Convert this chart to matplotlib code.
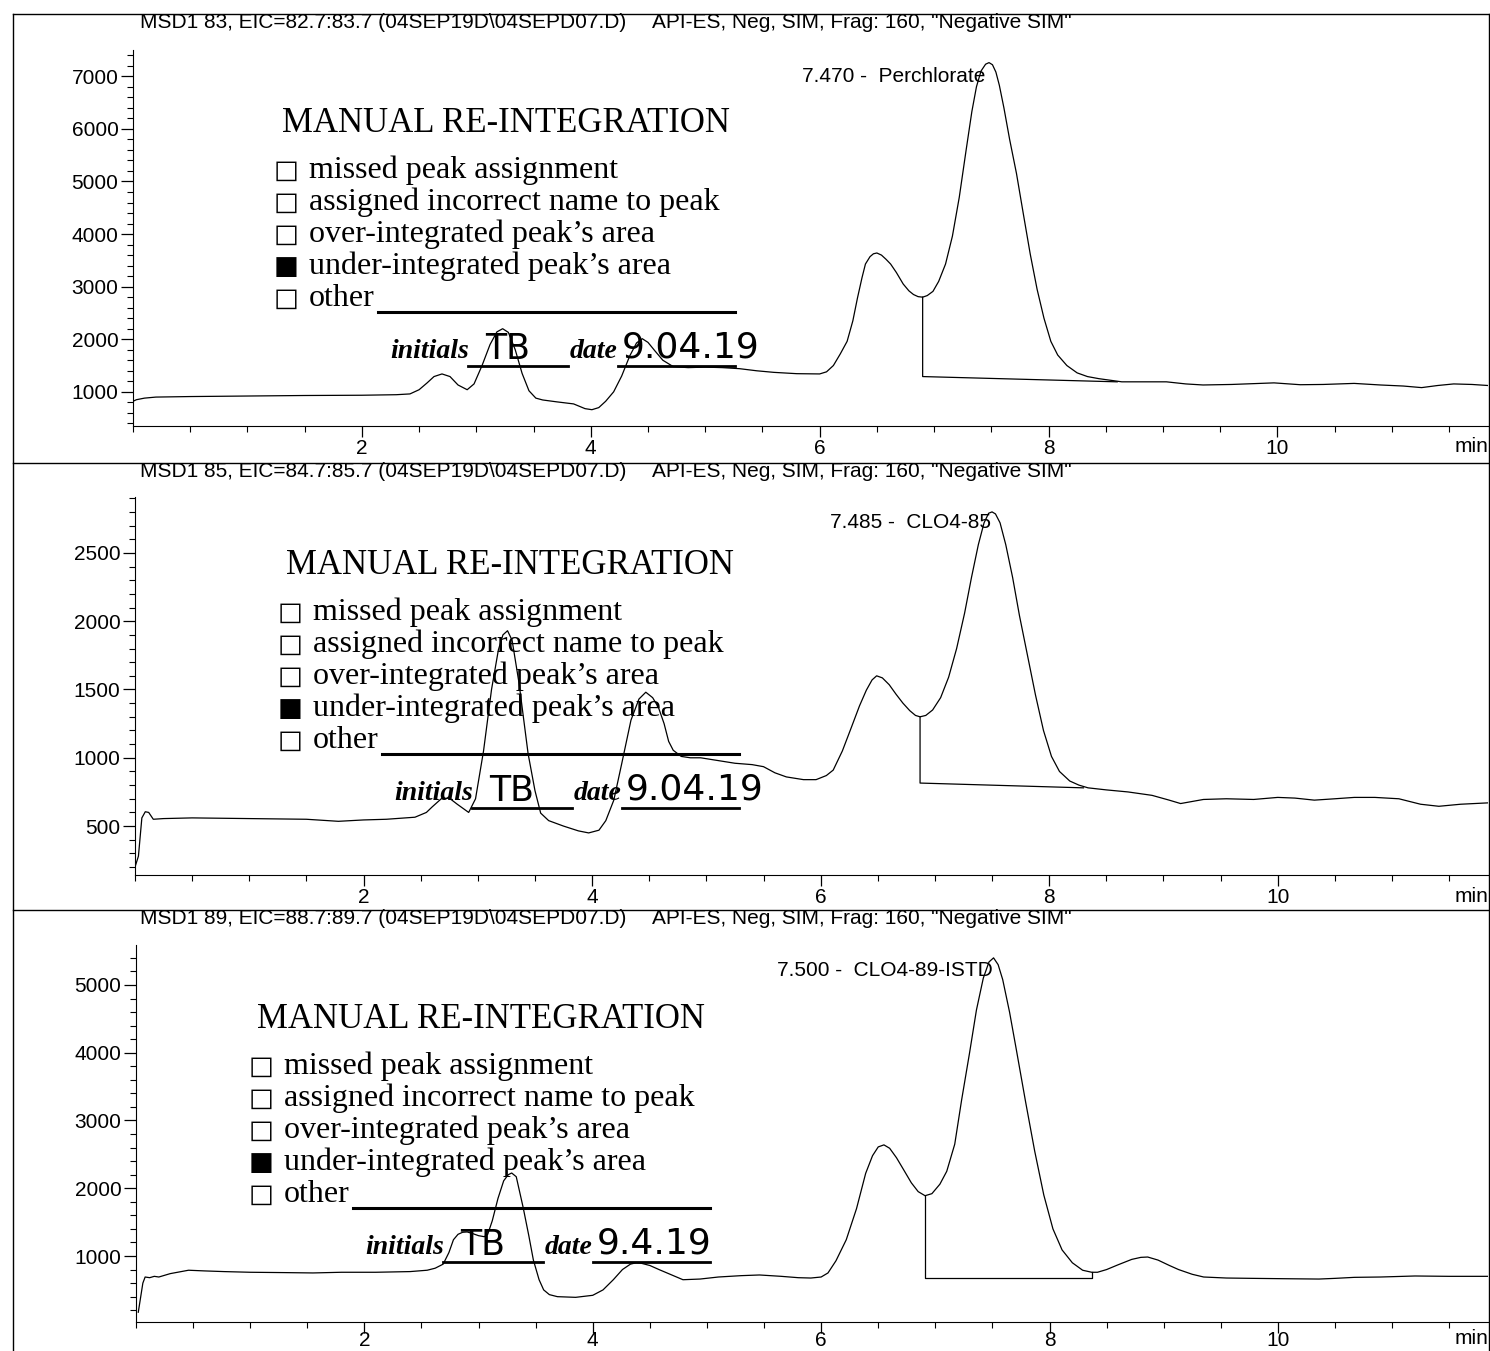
import numpy as np
import matplotlib
matplotlib.use('agg')
import matplotlib.pyplot as plt
from matplotlib.lines import Line2D
from matplotlib.ticker import MultipleLocator

W, H = 1490, 1351

# ---- trace data (time in min, abundance) ----
# MSD1 83 (Perchlorate)
t1 = [0.00, 0.03, 0.10, 0.20, 0.50, 1.00, 1.50, 2.00, 2.30, 2.42, 2.50, 2.57, 2.63, 2.70, 2.77,
      2.84, 2.92, 2.98, 3.05, 3.12, 3.18, 3.23, 3.28, 3.34, 3.40, 3.46, 3.52, 3.58, 3.70, 3.85,
      3.95, 4.01, 4.07, 4.13, 4.20, 4.27, 4.34, 4.40, 4.45, 4.50, 4.56, 4.63, 4.72, 4.85, 5.00,
      5.15, 5.30, 5.45, 5.60, 5.80, 6.00, 6.06, 6.12, 6.18, 6.24, 6.29, 6.33, 6.37, 6.40, 6.44,
      6.47, 6.50, 6.54, 6.58, 6.62, 6.67, 6.73, 6.78, 6.82, 6.86, 6.90, 6.94, 6.99, 7.04, 7.10,
      7.16, 7.22, 7.28, 7.33, 7.37, 7.41, 7.45, 7.48, 7.51, 7.54, 7.57, 7.61, 7.66, 7.72, 7.78,
      7.84, 7.90, 7.96, 8.02, 8.08, 8.16, 8.25, 8.34, 8.44, 8.64, 8.80, 9.03, 9.20, 9.35, 9.60,
      9.97, 10.2, 10.4, 10.67, 10.9, 11.1, 11.26, 11.4, 11.54, 11.7, 11.84]
v1 = [820, 850, 880, 900, 910, 920, 930, 935, 945, 960, 1040, 1170, 1290, 1340, 1290,
      1130, 1040, 1150, 1500, 1900, 2140, 2200, 2130, 1800, 1350, 1020, 880, 845, 810, 770,
      680, 660, 700, 820, 1000, 1300, 1680, 1930, 2010, 1940, 1780, 1600, 1480, 1460, 1470,
      1460, 1440, 1400, 1370, 1345, 1340, 1380, 1500, 1720, 1960, 2350, 2780, 3170, 3430, 3570,
      3625, 3640, 3600, 3520, 3430, 3270, 3050, 2920, 2850, 2810, 2800, 2830, 2910, 3100, 3430,
      3960, 4700, 5600, 6330, 6800, 7100, 7230, 7260, 7220, 7080, 6830, 6400, 5800, 5150, 4380,
      3620, 2950, 2400, 1960, 1700, 1500, 1360, 1290, 1250, 1190, 1190, 1190, 1150, 1130, 1140,
      1170, 1135, 1140, 1160, 1130, 1110, 1080, 1120, 1150, 1140, 1120]
bt1 = [6.90, 6.90, 8.60]
bv1 = [2800, 1290, 1190]

# MSD1 85 (CLO4-85)
t2 = [0.00, 0.03, 0.06, 0.09, 0.12, 0.16, 0.25, 0.50, 1.00, 1.50, 1.78, 2.00, 2.20, 2.45, 2.55,
      2.60, 2.68, 2.75, 2.82, 2.92, 2.98, 3.05, 3.12, 3.18, 3.22, 3.26, 3.30, 3.36, 3.44, 3.50,
      3.55, 3.62, 3.75, 3.88, 3.97, 4.06, 4.12, 4.19, 4.26, 4.34, 4.41, 4.47, 4.53, 4.58, 4.63,
      4.67, 4.71, 4.78, 4.86, 4.95, 5.10, 5.25, 5.40, 5.50, 5.60, 5.70, 5.85, 5.96, 6.05, 6.11,
      6.19, 6.27, 6.34, 6.40, 6.45, 6.49, 6.54, 6.60, 6.66, 6.72, 6.78, 6.83, 6.87, 6.92, 6.98,
      7.05, 7.12, 7.19, 7.26, 7.32, 7.38, 7.43, 7.47, 7.50, 7.53, 7.57, 7.62, 7.68, 7.74, 7.81,
      7.88, 7.95, 8.02, 8.09, 8.18, 8.26, 8.34, 8.50, 8.69, 8.90, 9.05, 9.15, 9.25, 9.35, 9.55,
      9.79, 10.00, 10.15, 10.32, 10.50, 10.67, 10.85, 11.06, 11.25, 11.41, 11.60, 11.84]
v2 = [200, 280, 560, 605, 600, 550, 555, 560, 555, 550, 535, 545, 550, 565, 600,
      640, 700, 705, 660, 600, 700, 1050, 1500, 1790, 1900, 1930, 1860, 1550, 1030, 760,
      595, 540, 500, 465, 450, 470, 540, 690, 960, 1275, 1430, 1480, 1440, 1370, 1250,
      1120, 1055, 1010, 1000, 1000, 980, 960, 950, 935, 890, 860, 840, 840, 870, 910,
      1050, 1225, 1380, 1495, 1570, 1600, 1585, 1535, 1465, 1400, 1345, 1310, 1300, 1310, 1350,
      1440, 1590, 1800, 2060, 2320, 2560, 2720, 2790, 2800, 2785, 2720, 2560, 2320, 2040, 1750,
      1460, 1200, 1010, 900, 830, 800, 780, 765, 750, 725, 690, 665, 680, 695, 700,
      695, 710, 705, 690, 700, 710, 710, 700, 660, 645, 660, 670]
bt2 = [6.87, 6.87, 8.30]
bv2 = [1300, 815, 780]

# MSD1 89 (CLO4-89-ISTD)
t3 = [0.02, 0.06, 0.08, 0.12, 0.16, 0.20, 0.30, 0.46, 0.60, 0.77, 1.00, 1.30, 1.55, 1.80, 2.10,
      2.40, 2.55, 2.62, 2.69, 2.74, 2.78, 2.82, 2.86, 2.90, 2.95, 3.00, 3.05, 3.08, 3.12, 3.17,
      3.22, 3.26, 3.29, 3.33, 3.39, 3.44, 3.48, 3.53, 3.57, 3.62, 3.69, 3.85, 4.00, 4.09, 4.18,
      4.26, 4.33, 4.38, 4.42, 4.50, 4.58, 4.65, 4.79, 4.94, 5.10, 5.30, 5.46, 5.65, 5.80, 5.91,
      6.00, 6.06, 6.13, 6.22, 6.31, 6.39, 6.45, 6.50, 6.55, 6.60, 6.66, 6.72, 6.79, 6.85, 6.91,
      6.97, 7.04, 7.10, 7.17, 7.23, 7.30, 7.36, 7.42, 7.47, 7.51, 7.55, 7.59, 7.65, 7.71, 7.79,
      7.87, 7.95, 8.03, 8.11, 8.20, 8.29, 8.37, 8.42, 8.50, 8.60, 8.72, 8.80, 8.86, 8.95, 9.05,
      9.13, 9.25, 9.35, 9.55, 9.78, 10.05, 10.36, 10.50, 10.67, 10.90, 11.20, 11.50, 11.84]
v3 = [170, 600, 690, 680, 700, 690, 740, 790, 780, 770, 760, 755, 750, 760, 760,
      770, 790, 820, 880, 1050, 1240, 1320, 1350, 1355, 1330, 1300, 1285, 1320, 1520, 1850,
      2110, 2200, 2225, 2170, 1720, 1300, 940, 650, 500, 430, 400, 390, 420, 500, 650,
      800, 880, 900, 895, 860, 800, 750, 650, 660, 690, 710, 720, 700, 680, 675,
      690, 750, 930, 1240, 1700, 2220, 2480, 2610, 2640, 2590, 2450, 2280, 2080, 1950, 1890,
      1920, 2060, 2250, 2650, 3300, 4000, 4630, 5100, 5340, 5400, 5300, 5080, 4600, 4040, 3280,
      2550, 1900, 1400, 1090, 900, 790, 760, 760, 800, 870, 950, 980, 985, 940, 860,
      800, 730, 690, 675, 670, 665, 660, 670, 685, 690, 705, 700, 700]
bt3 = [6.91, 6.91, 8.37, 8.37]
bv3 = [1890, 675, 675, 760]

headers = ['MSD1 83, EIC=82.7:83.7 (04SEP19D\\04SEPD07.D)',
           'MSD1 85, EIC=84.7:85.7 (04SEP19D\\04SEPD07.D)',
           'MSD1 89, EIC=88.7:89.7 (04SEP19D\\04SEPD07.D)']
method = 'API-ES, Neg, SIM, Frag: 160, "Negative SIM"'
peak_labels = ['7.470 -  Perchlorate', '7.485 -  CLO4-85', '7.500 -  CLO4-89-ISTD']
peak_rt = [7.45, 7.49, 7.50]
peak_label_y = [7000, 2720, 5220]
ylims = [(350, 7500), (142, 2909), (26, 5590)]
ymajor = [1000, 500, 1000]
yminor = [200, 100, 200]

stamp_lines = ['missed peak assignment', 'assigned incorrect name to peak',
               'over-integrated peak\u2019s area', 'under-integrated peak\u2019s area', 'other']
checked = [False, False, False, True, False]
initials = ['TB', 'TB', 'TB']
dates = ['9.04.19', '9.04.19', '9.4.19']

# ---- layout in pixels of the scanned page ----
axes_px = [(133, 50, 426), (135, 497, 875), (136, 945, 1322)]  # left, top, bottom
header_y = [22, 471, 918]
xlabel_pad = [1.5, 1.5, -1.5]  # bottom panel sits on the page edge
stamp_org = [(282, 124), (286, 566), (257, 1020)]
line_dy = [46, 78, 110, 142, 174]

traces = [(t1, v1, bt1, bv1), (t2, v2, bt2, bv2), (t3, v3, bt3, bv3)]

def fx(px):
    return px / W

def fy(py):
    return 1 - py / H

plt.rcParams['font.family'] = ['Liberation Sans', 'DejaVu Sans']
fig = plt.figure(figsize=(W / 100, H / 100), dpi=100)

for i in range(3):
    left, top, bottom = axes_px[i]
    ax = fig.add_axes([fx(left), fy(bottom), fx(1488 - left), (bottom - top) / H])
    t, v, bt, bv = traces[i]
    ax.plot(t, v, color='black', lw=0.9)
    ax.plot(bt, bv, color='black', lw=0.9)
    ax.set_xlim(0, 11.84)
    ax.set_ylim(*ylims[i])
    ax.patch.set_alpha(0)
    for s in ['top', 'right']:
        ax.spines[s].set_visible(False)
    ax.xaxis.set_major_locator(MultipleLocator(2))
    ax.xaxis.set_minor_locator(MultipleLocator(0.5))
    ax.yaxis.set_major_locator(MultipleLocator(ymajor[i]))
    ax.yaxis.set_minor_locator(MultipleLocator(yminor[i]))
    ax.tick_params(axis='both', which='major', direction='out', labelsize=15, pad=1.5, width=0.9)
    ax.tick_params(axis='x', which='major', length=8, pad=xlabel_pad[i])
    ax.tick_params(axis='y', which='major', length=9)
    ax.tick_params(axis='both', which='minor', direction='out', length=4.5, width=0.8)
    ax.set_yticks([y for y in ax.get_yticks() if ylims[i][0] < y < ylims[i][1]])
    ax.set_xticks([2, 4, 6, 8, 10])
    ax.text(peak_rt[i], peak_label_y[i], peak_labels[i], ha='right', va='center', fontsize=15)

    # header line
    fig.text(fx(140), fy(header_y[i]), headers[i], fontsize=15, va='center', ha='left')
    fig.text(fx(652), fy(header_y[i]), method, fontsize=15, va='center', ha='left')
    fig.text(fx(1488), fy(bottom + 21 + 1.4 * (xlabel_pad[i] - 1.5)), 'min', fontsize=15,
             va='center', ha='right')

    # manual re-integration stamp
    ox, oy = stamp_org[i]
    fig.text(fx(ox), fy(oy), 'MANUAL RE-INTEGRATION', family='Liberation Serif',
             fontsize=25, va='center', ha='left')
    for k, line in enumerate(stamp_lines):
        y = oy + line_dy[k]
        box = '\u25A0' if checked[k] else '\u25A1'
        fig.text(fx(ox - 8), fy(y + 1), box, family='DejaVu Sans', fontsize=19,
                 va='center', ha='left')
        fig.text(fx(ox + 27), fy(y), line, family='Liberation Serif', fontsize=23,
                 va='center', ha='left')
    fig.add_artist(Line2D([fx(ox + 96), fx(ox + 453)], [fy(oy + 188)] * 2,
                          color='black', lw=2.2, transform=fig.transFigure))
    yi = oy + 228
    fig.text(fx(ox + 108), fy(yi), 'initials', family='Liberation Serif', style='italic',
             weight='bold', fontsize=20, va='center', ha='left')
    fig.text(fx(ox + 288), fy(yi), 'date', family='Liberation Serif', style='italic',
             weight='bold', fontsize=20, va='center', ha='left')
    for a, b in [(186, 286), (336, 453)]:
        fig.add_artist(Line2D([fx(ox + a), fx(ox + b)], [fy(yi + 14)] * 2,
                              color='black', lw=2.0, transform=fig.transFigure))
    fig.text(fx(ox + 203), fy(yi - 3), initials[i], family='DejaVu Sans', fontsize=25,
             va='center', ha='left')
    fig.text(fx(ox + 340), fy(yi - 5), dates[i], family='DejaVu Sans', fontsize=26,
             va='center', ha='left')

# page frame of the printout
for y in [14, 463, 910]:
    fig.add_artist(Line2D([fx(13), fx(1490)], [fy(y)] * 2, color='black', lw=1.0,
                          transform=fig.transFigure))
for x in [13, 1489]:
    fig.add_artist(Line2D([fx(x)] * 2, [fy(14), fy(1351)], color='black', lw=1.0,
                          transform=fig.transFigure))

plt.savefig('out.png', dpi=100)
